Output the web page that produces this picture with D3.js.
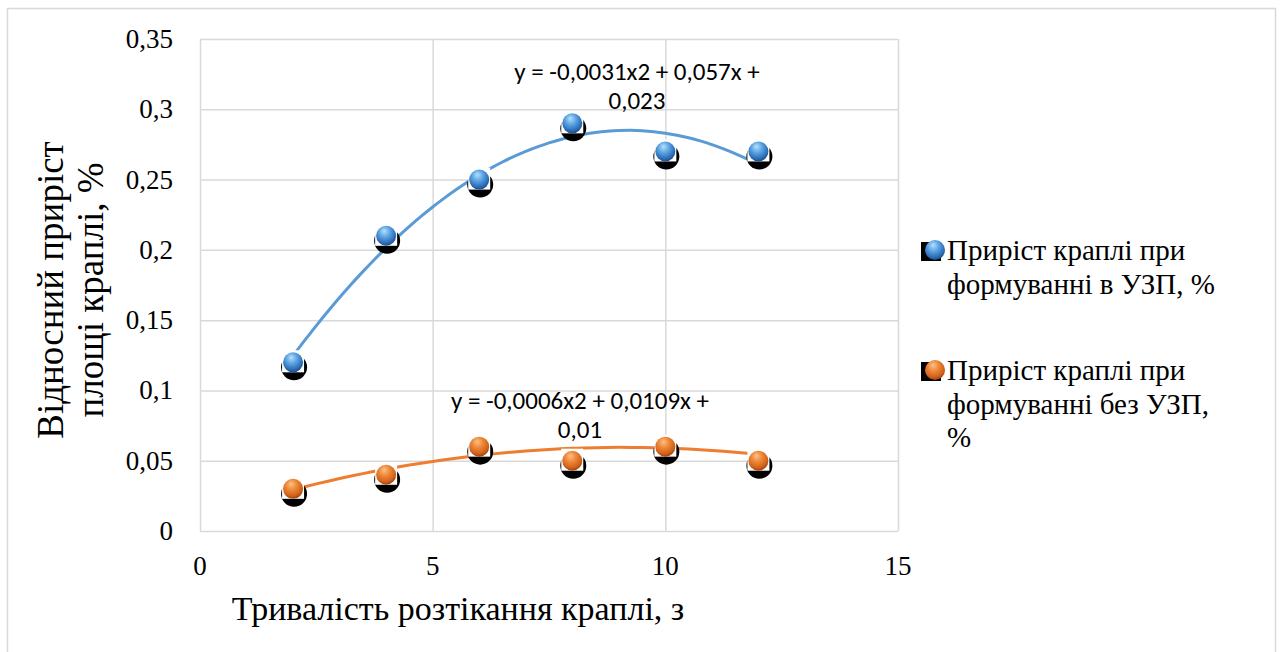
<!DOCTYPE html>
<html lang="en">
<head>
  <meta charset="UTF-8">
  <title>Droplet growth chart</title>
  <script src="https://d3js.org/d3.v7.min.js"></script>
  <style>
    body { margin: 0; background: #fff; }
    svg { display: block; }
  </style>
</head>
<body>
  <svg width="1280" height="652"></svg>

  <script>
    // data
    const xValues = [2, 4, 6, 8, 10, 12];
    const blueValues = [0.12, 0.21, 0.25, 0.29, 0.27, 0.27];
    const orangeValues = [0.03, 0.04, 0.06, 0.05, 0.06, 0.05];
    const xTicks = [0, 5, 10, 15];
    const yTicks = [0, 0.05, 0.1, 0.15, 0.2, 0.25, 0.3, 0.35];
    // trendline coefficients as printed on the chart (a*x^2 + b*x + c)
    const blueTrend = [-0.0031, 0.057, 0.023];
    const orangeTrend = [-0.0006, 0.0109, 0.01];
    const blueEq = ['y = -0,0031x2 + 0,057x +', '0,023'];
    const orangeEq = ['y = -0,0006x2 + 0,0109x +', '0,01'];
    const legendLabels = [
      ['Приріст краплі при', 'формуванні в УЗП, %'],
      ['Приріст краплі при', 'формуванні без УЗП,', '%']
    ];

    const plot = { left: 200, right: 898, top: 39, bottom: 531 };
    const svg = d3.select('svg');
    const serif = "'Liberation Serif', 'Times New Roman', serif";
    const calibri = 'Carlito';

    const x = d3.scaleLinear().domain([0, 15]).range([plot.left, plot.right]);
    const y = d3.scaleLinear().domain([0, 0.35]).range([plot.bottom, plot.top]);
    const fmt = v => String(+v.toFixed(2)).replace('.', ',');

    // outer chart frame
    svg.append('rect')
      .attr('x', 7.5).attr('y', 8.5)
      .attr('width', 1268).attr('height', 660)
      .attr('fill', '#fff').attr('stroke', '#d9d9d9').attr('stroke-width', 1.5);

    // gradients for the glossy markers
    const defs = svg.append('defs');
    const grads = {
      blue: ['#b9e0fa', '#5fa8e6', '#2f6fb8', '#1d4f8c'],
      orange: ['#fbc28a', '#ef8a3a', '#d2621a', '#9c430c']
    };
    Object.entries(grads).forEach(([name, c]) => {
      const g = defs.append('radialGradient').attr('id', 'g-' + name)
        .attr('cx', '45%').attr('cy', '35%').attr('r', '65%').attr('fx', '40%').attr('fy', '25%');
      g.append('stop').attr('offset', '0%').attr('stop-color', c[0]);
      g.append('stop').attr('offset', '40%').attr('stop-color', c[1]);
      g.append('stop').attr('offset', '80%').attr('stop-color', c[2]);
      g.append('stop').attr('offset', '100%').attr('stop-color', c[3]);
    });

    // gridlines
    const xGrid = d3.axisBottom(x).tickValues(xTicks).tickSize(-(plot.bottom - plot.top)).tickFormat('');
    svg.append('g').attr('transform', `translate(0,${plot.bottom})`).call(xGrid)
      .call(g => g.select('.domain').remove())
      .call(g => g.selectAll('line').attr('stroke', '#d9d9d9').attr('stroke-width', 1.5));

    const yGrid = d3.axisLeft(y).tickValues(yTicks).tickSize(-(plot.right - plot.left)).tickFormat('');
    svg.append('g').attr('transform', `translate(${plot.left},0)`).call(yGrid)
      .call(g => g.select('.domain').remove())
      .call(g => g.selectAll('line').attr('stroke', '#d9d9d9').attr('stroke-width', 1.5));

    // tick labels
    svg.append('g').selectAll('text')
      .data(yTicks).join('text')
      .attr('font-family', serif).attr('font-size', 27)
      .attr('x', 173).attr('y', d => y(d) + 9)
      .attr('text-anchor', 'end')
      .text(fmt);

    svg.append('g').selectAll('text')
      .data(xTicks).join('text')
      .attr('font-family', serif).attr('font-size', 27)
      .attr('x', d => x(d)).attr('y', 575)
      .attr('text-anchor', 'middle')
      .text(fmt);

    // axis titles
    svg.append('text')
      .attr('font-family', serif).attr('font-size', 34)
      .attr('x', 458).attr('y', 620)
      .attr('text-anchor', 'middle')
      .text('Тривалість розтікання краплі, з');

    const yTitle = svg.append('text')
      .attr('font-family', serif).attr('font-size', 37)
      .attr('transform', 'translate(0,290) rotate(-90)')
      .attr('text-anchor', 'middle');
    yTitle.append('tspan').attr('x', 0).attr('y', 63).text('Відносний приріст');
    yTitle.append('tspan').attr('x', 0).attr('y', 103).text('площі краплі, %');

    // trendlines
    const poly = (c, t) => c[0] * t * t + c[1] * t + c[2];
    const line = d3.line().x(d => x(d[0])).y(d => y(d[1])).curve(d3.curveMonotoneX);
    const span = d3.range(2, 12.01, 0.25);

    svg.append('path')
      .datum(span.map(t => [t, poly(blueTrend, t)]))
      .attr('fill', 'none').attr('stroke', '#5b9bd5').attr('stroke-width', 3)
      .attr('d', line);
    svg.append('path')
      .datum(span.map(t => [t, poly(orangeTrend, t)]))
      .attr('fill', 'none').attr('stroke', '#ed7d31').attr('stroke-width', 3)
      .attr('d', line);

    // markers: black shadow, white box, glossy ball
    function drawMarkers(values, name) {
      const g = svg.append('g');
      const pts = xValues.map((xv, i) => [x(xv), y(values[i])]);
      g.selectAll('circle.shadow').data(pts).join('circle')
        .attr('class', 'shadow')
        .attr('cx', d => d[0] + 1).attr('cy', d => d[1] + 5).attr('r', 13)
        .attr('fill', '#000');
      g.selectAll('rect.box').data(pts).join('rect')
        .attr('class', 'box')
        .attr('x', d => d[0] - 11).attr('y', d => d[1] - 12)
        .attr('width', 22).attr('height', 22)
        .attr('fill', '#fff');
      g.selectAll('circle.ball').data(pts).join('circle')
        .attr('class', 'ball')
        .attr('cx', d => d[0]).attr('cy', d => d[1]).attr('r', 10)
        .attr('fill', `url(#g-${name})`);
    }
    drawMarkers(blueValues, 'blue');
    drawMarkers(orangeValues, 'orange');

    // equations
    function drawEq(lines, cx, y0) {
      const t = svg.append('text')
        .attr('font-family', calibri).attr('font-size', 25)
        .attr('text-anchor', 'middle');
      lines.forEach((s, i) => t.append('tspan').attr('x', cx).attr('y', y0 + i * 29).text(s));
    }
    drawEq(blueEq, 637, 80);
    drawEq(orangeEq, 580, 409);

    // legend
    const legendY = [260, 380];
    legendLabels.forEach((lines, i) => {
      const g = svg.append('g').attr('transform', `translate(921,${legendY[i]})`);
      g.append('rect').attr('x', 0).attr('y', -18).attr('width', 20).attr('height', 19).attr('fill', '#000');
      g.append('circle').attr('cx', 14).attr('cy', -10).attr('r', 10)
        .attr('fill', `url(#g-${i === 0 ? 'blue' : 'orange'})`);
      const t = g.append('text').attr('font-family', serif).attr('font-size', 29);
      lines.forEach((s, j) => t.append('tspan').attr('x', 26).attr('y', j * 33.5).text(s));
    });
  </script>
</body>
</html>
